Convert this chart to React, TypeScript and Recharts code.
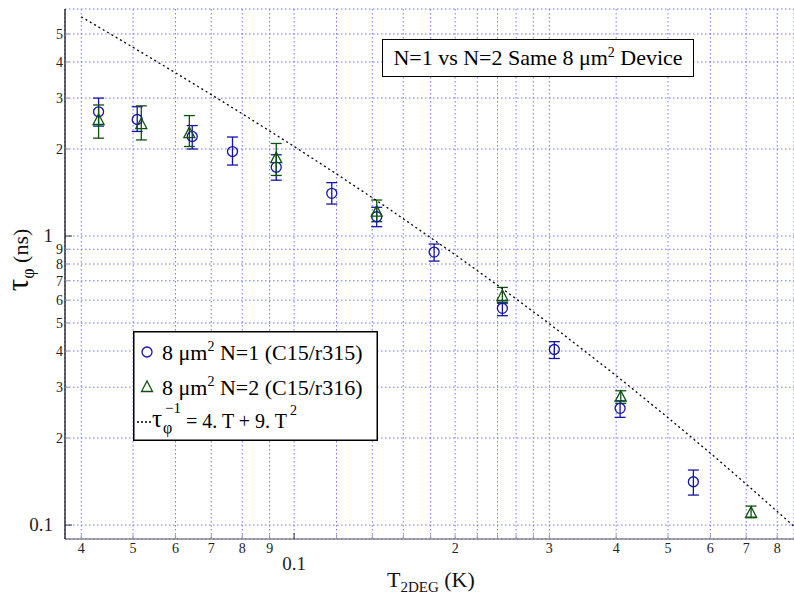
import { ScatterChart, Scatter, XAxis, YAxis, CartesianGrid, ErrorBar, Legend } from "recharts";

// N=1 device (C15/r315): temperature (K), tau_phi (ns), error bar ends
const n1Temp = [0.0431, 0.0509, 0.0645, 0.0767, 0.0926, 0.1176, 0.1427, 0.1827, 0.2451, 0.3065, 0.4068, 0.5577];
const n1Tau = [2.69, 2.53, 2.21, 1.96, 1.73, 1.405, 1.166, 0.88, 0.562, 0.405, 0.2534, 0.1412];
const n1Low = [2.4, 2.3, 2.0, 1.76, 1.56, 1.29, 1.077, 0.819, 0.53, 0.377, 0.2359, 0.127];
const n1High = [3.0, 2.8, 2.41, 2.2, 1.91, 1.53, 1.257, 0.938, 0.59, 0.431, 0.269, 0.155];

// N=2 device (C15/r316)
const n2Temp = [0.0431, 0.0518, 0.0637, 0.0926, 0.1427, 0.2451, 0.408, 0.7149];
const n2Tau = [2.52, 2.44, 2.27, 1.86, 1.214, 0.62, 0.278, 0.1103];
const n2Low = [2.18, 2.15, 2.04, 1.62, 1.121, 0.585, 0.2637, 0.106];
const n2High = [2.84, 2.82, 2.61, 2.09, 1.332, 0.664, 0.2915, 0.1163];

// dotted fit curve
const fitTemp = [0.04, 0.05, 0.06, 0.07, 0.08, 0.1, 0.12, 0.15, 0.2, 0.25, 0.3, 0.4, 0.5, 0.6, 0.7, 0.86];
const fitTau = [5.734, 4.494, 3.671, 3.085, 2.648, 2.041, 1.64, 1.246, 0.862, 0.64, 0.4975, 0.329, 0.2353, 0.1773, 0.1387, 0.099];

const xTicks = [0.04, 0.05, 0.06, 0.07, 0.08, 0.09, 0.1, 0.12, 0.14, 0.16, 0.18, 0.2, 0.22, 0.24, 0.26, 0.28, 0.3, 0.4, 0.5, 0.6, 0.7, 0.8];
const xTickLabels = ["4", "5", "6", "7", "8", "9", "0.1", "", "", "", "", "2", "", "", "", "", "3", "4", "5", "6", "7", "8"];
const yTicks = [0.1, 0.2, 0.3, 0.4, 0.5, 0.6, 0.7, 0.8, 0.9, 1, 2, 3, 4, 5];
const yTickLabels = ["0.1", "2", "3", "4", "5", "6", "7", "8", "9", "1", "2", "3", "4", "5"];

const FONT = "'Liberation Serif', 'DejaVu Serif', serif";
const BLUE = "#1414a8";
const GREEN = "#0f520f";

const n1Data = n1Temp.map((t, i) => ({ x: t, y: n1Tau[i], err: [n1Tau[i] - n1Low[i], n1High[i] - n1Tau[i]] }));
const n2Data = n2Temp.map((t, i) => ({ x: t, y: n2Tau[i], err: [n2Tau[i] - n2Low[i], n2High[i] - n2Tau[i]] }));
const fitData = fitTemp.map((t, i) => ({ x: t, y: fitTau[i] }));

const Circle = (props: any) => (
  <circle cx={props.cx} cy={props.cy} r={5} fill="none" stroke={BLUE} strokeWidth={1.3} />
);

const Triangle = (props: any) => {
  const { cx, cy } = props;
  return (
    <polygon
      points={`${cx},${cy - 6} ${cx - 5.5},${cy + 4.5} ${cx + 5.5},${cy + 4.5}`}
      fill="none"
      stroke={GREEN}
      strokeWidth={1.3}
    />
  );
};

const XTick = (props: any) => {
  const { x, y, payload } = props;
  const label = xTickLabels[xTicks.indexOf(payload.value)];
  const major = payload.value === 0.1;
  return (
    <g>
      <line x1={x} x2={x} y1={y} y2={y - (major ? 6 : 4)} stroke={major ? "#333" : "#999"} />
      {label && (
        <text x={x} y={y + (major ? 31 : 14)} textAnchor="middle" style={{ fontFamily: FONT }} fontSize={major ? 19 : 14} fill="#222">
          {label}
        </text>
      )}
    </g>
  );
};

const TopTick = (props: any) => {
  const { x, y, payload } = props;
  const label = xTickLabels[xTicks.indexOf(payload.value)];
  if (!label) return <g />;
  const major = payload.value === 0.1;
  return <line x1={x} x2={x} y1={y} y2={y + (major ? 6 : 4)} stroke={major ? "#333" : "#999"} />;
};

const YTick = (props: any) => {
  const { x, y, payload } = props;
  const label = yTickLabels[yTicks.indexOf(payload.value)];
  const major = payload.value === 1 || payload.value === 0.1;
  return (
    <g>
      <line x1={x} x2={x + (major ? 7 : 4)} y1={y} y2={y} stroke={major ? "#333" : "#999"} />
      <text x={x - (major ? 12 : 2)} y={y + (major ? 6 : 5)} textAnchor="end" style={{ fontFamily: FONT }} fontSize={major ? 19 : 14} fill="#222">
        {label}
      </text>
    </g>
  );
};

const LegendBox = () => (
  <svg width={245} height={110} style={{ display: "block", fontFamily: FONT }}>
    <rect x={0.75} y={0.75} width={243.5} height={108.5} fill="#fff" stroke="#000" strokeWidth={1.5} />
    <circle cx={14} cy={21} r={5} fill="none" stroke={BLUE} strokeWidth={1.3} />
    <text x={29} y={29} fontSize={22} fill="#000">
      8 μm<tspan dy={-9} fontSize={14}>2</tspan>
      <tspan dy={9}> N=1 (C15/r315)</tspan>
    </text>
    <polygon points="14,50 8.5,60.5 19.5,60.5" fill="none" stroke={GREEN} strokeWidth={1.3} />
    <text x={29} y={64} fontSize={22} fill="#000">
      8 μm<tspan dy={-9} fontSize={14}>2</tspan>
      <tspan dy={9}> N=2 (C15/r316)</tspan>
    </text>
    <line x1={4} x2={18} y1={91} y2={91} stroke="#000" strokeWidth={1.3} strokeDasharray="2 2" />
    <text x={19} y={96} fontSize={25} fill="#000">τ</text>
    <text x={32} y={82} fontSize={15} fill="#000">−1</text>
    <text x={30} y={102} fontSize={16} fill="#000">φ</text>
    <text x={53} y={97} fontSize={20} fill="#000">
      = 4. T + 9. T<tspan dx={3} dy={-13} fontSize={14}>2</tspan>
    </text>
  </svg>
);

const XLabel = () => (
  <text x={387} y={587} style={{ fontFamily: FONT }} fontSize={22} fill="#111">
    T
    <tspan fontSize={15} dy={5}>2DEG</tspan>
    <tspan dy={-5}> (K)</tspan>
  </text>
);

const YLabel = () => (
  <text transform="translate(28,260) rotate(-90)" textAnchor="middle" style={{ fontFamily: FONT }} fontSize={22} fill="#111">
    <tspan fontSize={31}>τ</tspan>
    <tspan fontSize={18} dy={6}>φ</tspan>
    <tspan dy={-6}> (ns)</tspan>
  </text>
);

export default function App() {
  return (
    <div style={{ position: "absolute", left: 0, top: 0, width: 794, height: 594, overflow: "hidden", background: "#fff", fontFamily: FONT }}>
      <ScatterChart width={794} height={594} margin={{ top: 9, right: 0, bottom: 0, left: 0 }} style={{ fontFamily: FONT }}>
        <CartesianGrid stroke="#7373ff" strokeDasharray="1.5 2.5" strokeWidth={1} />
        <XAxis
          dataKey="x"
          type="number"
          scale="log"
          domain={[0.0373, 0.86]}
          allowDataOverflow
          ticks={xTicks}
          interval={0}
          height={55}
          tickSize={0}
          tickMargin={0}
          tickLine={false}
          axisLine={{ stroke: "#555", strokeWidth: 1.2 }}
          tick={<XTick />}
          label={<XLabel />}
        />
        <XAxis
          xAxisId="top"
          dataKey="x"
          type="number"
          scale="log"
          orientation="top"
          domain={[0.0373, 0.86]}
          allowDataOverflow
          ticks={xTicks}
          interval={0}
          height={0}
          tickSize={0}
          tickMargin={0}
          tickLine={false}
          axisLine={{ stroke: "#000", strokeWidth: 1.2 }}
          tick={<TopTick />}
        />
        <YAxis
          dataKey="y"
          type="number"
          scale="log"
          domain={[0.0895, 6.1]}
          allowDataOverflow
          ticks={yTicks}
          interval={0}
          width={65}
          tickSize={0}
          tickMargin={0}
          tickLine={false}
          axisLine={{ stroke: "#000", strokeWidth: 1.2 }}
          tick={<YTick />}
          label={<YLabel />}
        />
        <Legend
          layout="vertical"
          align="center"
          verticalAlign="middle"
          wrapperStyle={{ left: 133, top: 331, width: 245, height: 110 }}
          content={() => <LegendBox />}
        />
        <Scatter
          name="fit"
          data={fitData}
          line={{ stroke: "#000", strokeWidth: 1.3, strokeDasharray: "2 3" }}
          lineType="joint"
          shape={() => <g />}
          legendType="none"
          isAnimationActive={false}
        />
        <Scatter name="N=1" data={n1Data} shape={<Circle />} isAnimationActive={false}>
          <ErrorBar dataKey="err" direction="y" width={5.5} stroke={BLUE} strokeWidth={1.3} isAnimationActive={false} />
        </Scatter>
        <Scatter name="N=2" data={n2Data} shape={<Triangle />} isAnimationActive={false}>
          <ErrorBar dataKey="err" direction="y" width={5.5} stroke={GREEN} strokeWidth={1.3} isAnimationActive={false} />
        </Scatter>
      </ScatterChart>
      <div
        style={{
          position: "absolute",
          left: 382,
          top: 39,
          width: 312,
          height: 38,
          boxSizing: "border-box",
          border: "1.5px solid #000",
          background: "#fff",
          fontSize: 22,
          lineHeight: "35px",
          textAlign: "center",
          whiteSpace: "nowrap",
          color: "#000",
        }}
      >
        N=1 vs N=2 Same 8 μm<sup style={{ fontSize: 14, lineHeight: 0 }}>2</sup> Device
      </div>
    </div>
  );
}
